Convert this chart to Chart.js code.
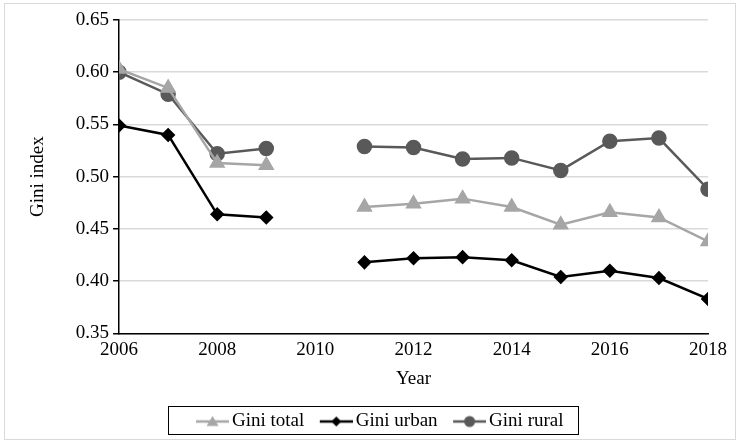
<!DOCTYPE html>
<html>
<head>
<meta charset="utf-8">
<script src="https://cdn.jsdelivr.net/npm/chart.js@4"></script>
<style>
  html, body { margin: 0; padding: 0; background: #fff; }
  #wrap { width: 740px; height: 443px; }
</style>
</head>
<body>
<div id="wrap"><canvas id="giniChart"></canvas></div>
<script>
// years (2010 has no survey -> gap)
const years = [2006, 2007, 2008, 2009, 2010, 2011, 2012, 2013, 2014, 2015, 2016, 2017, 2018];
const giniTotal = [0.603, 0.585, 0.513, 0.511, null, 0.471, 0.474, 0.479, 0.471, 0.454, 0.466, 0.461, 0.438];
const giniUrban = [0.549, 0.540, 0.464, 0.461, null, 0.418, 0.422, 0.423, 0.420, 0.404, 0.410, 0.403, 0.383];
const giniRural = [0.600, 0.579, 0.522, 0.527, null, 0.529, 0.528, 0.517, 0.518, 0.506, 0.534, 0.537, 0.488];

const FONT = "'Liberation Serif', 'Times New Roman', serif";

// small canvas used as legend symbol: line with marker in the middle
// (symbol sits in x 7..40 so it ends just before the label text)
function legendSymbol(color, style) {
  const c = document.createElement('canvas');
  c.width = 40; c.height = 14;
  const g = c.getContext('2d');
  g.strokeStyle = color; g.fillStyle = color; g.lineWidth = 2.5;
  g.beginPath(); g.moveTo(7, 7); g.lineTo(40, 7); g.stroke();
  const cx = 23.5;
  g.beginPath();
  if (style === 'triangle') {
    g.moveTo(cx, 1.5); g.lineTo(cx + 6, 11.5); g.lineTo(cx - 6, 11.5);
  } else if (style === 'rectRot') {
    g.moveTo(cx, 2); g.lineTo(cx + 5, 7); g.lineTo(cx, 12); g.lineTo(cx - 5, 7);
  } else {
    g.arc(cx, 7, 5.5, 0, Math.PI * 2);
  }
  g.closePath(); g.fill();
  return c;
}

function toPoints(vals) {
  return years.map((y, i) => ({ x: y, y: vals[i] }));
}

const frame = {
  id: 'frame',
  afterLayout(chart) {
    // legend in the original sits a bit right of centre
    chart.legend.left += 14;
    chart.legend.right += 14;
  },
  afterDraw(chart) {
    const ctx = chart.ctx;
    ctx.save();
    // outer light border
    ctx.strokeStyle = '#d9d9d9';
    ctx.lineWidth = 1;
    ctx.strokeRect(4.5, 3.5, 731, 436);
    // box around legend
    const boxes = chart.legend.legendHitBoxes;
    if (boxes && boxes.length) {
      const left = Math.min(...boxes.map(b => b.left)) - 28;
      const right = Math.max(...boxes.map(b => b.left + b.width)) + 14;
      const top = boxes[0].top - 6;
      const bottom = boxes[0].top + boxes[0].height + 3;
      ctx.strokeStyle = '#000';
      ctx.strokeRect(Math.round(left) + 0.5, Math.round(top) + 0.5, Math.round(right - left), Math.round(bottom - top));
    }
    ctx.restore();
  }
};

const ctx = document.getElementById('giniChart').getContext('2d');
new Chart(ctx, {
  type: 'line',
  data: {
    datasets: [
      {
        label: 'Gini total',
        data: toPoints(giniTotal),
        borderColor: '#a6a6a6',
        backgroundColor: '#a6a6a6',
        borderWidth: 2.5,
        pointStyle: 'triangle',
        pointRadius: 7,
        spanGaps: false,
        symbol: legendSymbol('#a6a6a6', 'triangle')
      },
      {
        label: 'Gini urban',
        data: toPoints(giniUrban),
        borderColor: '#000000',
        backgroundColor: '#000000',
        borderWidth: 2.5,
        pointStyle: 'rectRot',
        pointRadius: 5.5,
        spanGaps: false,
        symbol: legendSymbol('#000000', 'rectRot')
      },
      {
        label: 'Gini rural',
        data: toPoints(giniRural),
        borderColor: '#595959',
        backgroundColor: '#595959',
        borderWidth: 2.5,
        pointStyle: 'circle',
        pointRadius: 6.5,
        spanGaps: false,
        symbol: legendSymbol('#595959', 'circle')
      }
    ]
  },
  options: {
    responsive: true,
    maintainAspectRatio: false,
    animation: false,
    layout: { padding: { left: 23, right: 32, top: 20, bottom: 2 } },
    scales: {
      x: {
        type: 'linear',
        min: 2006,
        max: 2018,
        ticks: {
          stepSize: 2,
          color: '#000',
          font: { family: FONT, size: 19 },
          callback: v => String(v),
          padding: 0
        },
        grid: { display: false, drawTicks: true, tickLength: 5, tickColor: '#000' },
        border: { color: '#000', width: 1.5 },
        title: {
          display: true,
          text: 'Year',
          color: '#000',
          font: { family: FONT, size: 19 },
          padding: { top: 6, bottom: 7 }
        }
      },
      y: {
        min: 0.35,
        max: 0.65,
        ticks: {
          stepSize: 0.05,
          color: '#000',
          font: { family: FONT, size: 19 },
          callback: v => v.toFixed(2),
          padding: 4
        },
        grid: { color: '#d9d9d9', lineWidth: 1.5, tickLength: 6, tickColor: '#000' },
        border: { color: '#000', width: 1.5 },
        title: {
          display: true,
          text: 'Gini index',
          color: '#000',
          font: { family: FONT, size: 19 },
          padding: { bottom: 22 }
        }
      }
    },
    plugins: {
      tooltip: { enabled: false },
      legend: {
        position: 'bottom',
        labels: {
          usePointStyle: true,
          pointStyleWidth: 27,
          boxHeight: 14,
          padding: 15,
          color: '#000',
          font: { family: FONT, size: 19 },
          generateLabels(chart) {
            return chart.data.datasets.map((ds, i) => ({
              text: ds.label,
              pointStyle: ds.symbol,
              fillStyle: ds.backgroundColor,
              strokeStyle: ds.borderColor,
              lineWidth: 0,
              hidden: false,
              datasetIndex: i,
              fontColor: '#000'
            }));
          }
        }
      }
    }
  },
  plugins: [frame]
});
</script>
</body>
</html>
